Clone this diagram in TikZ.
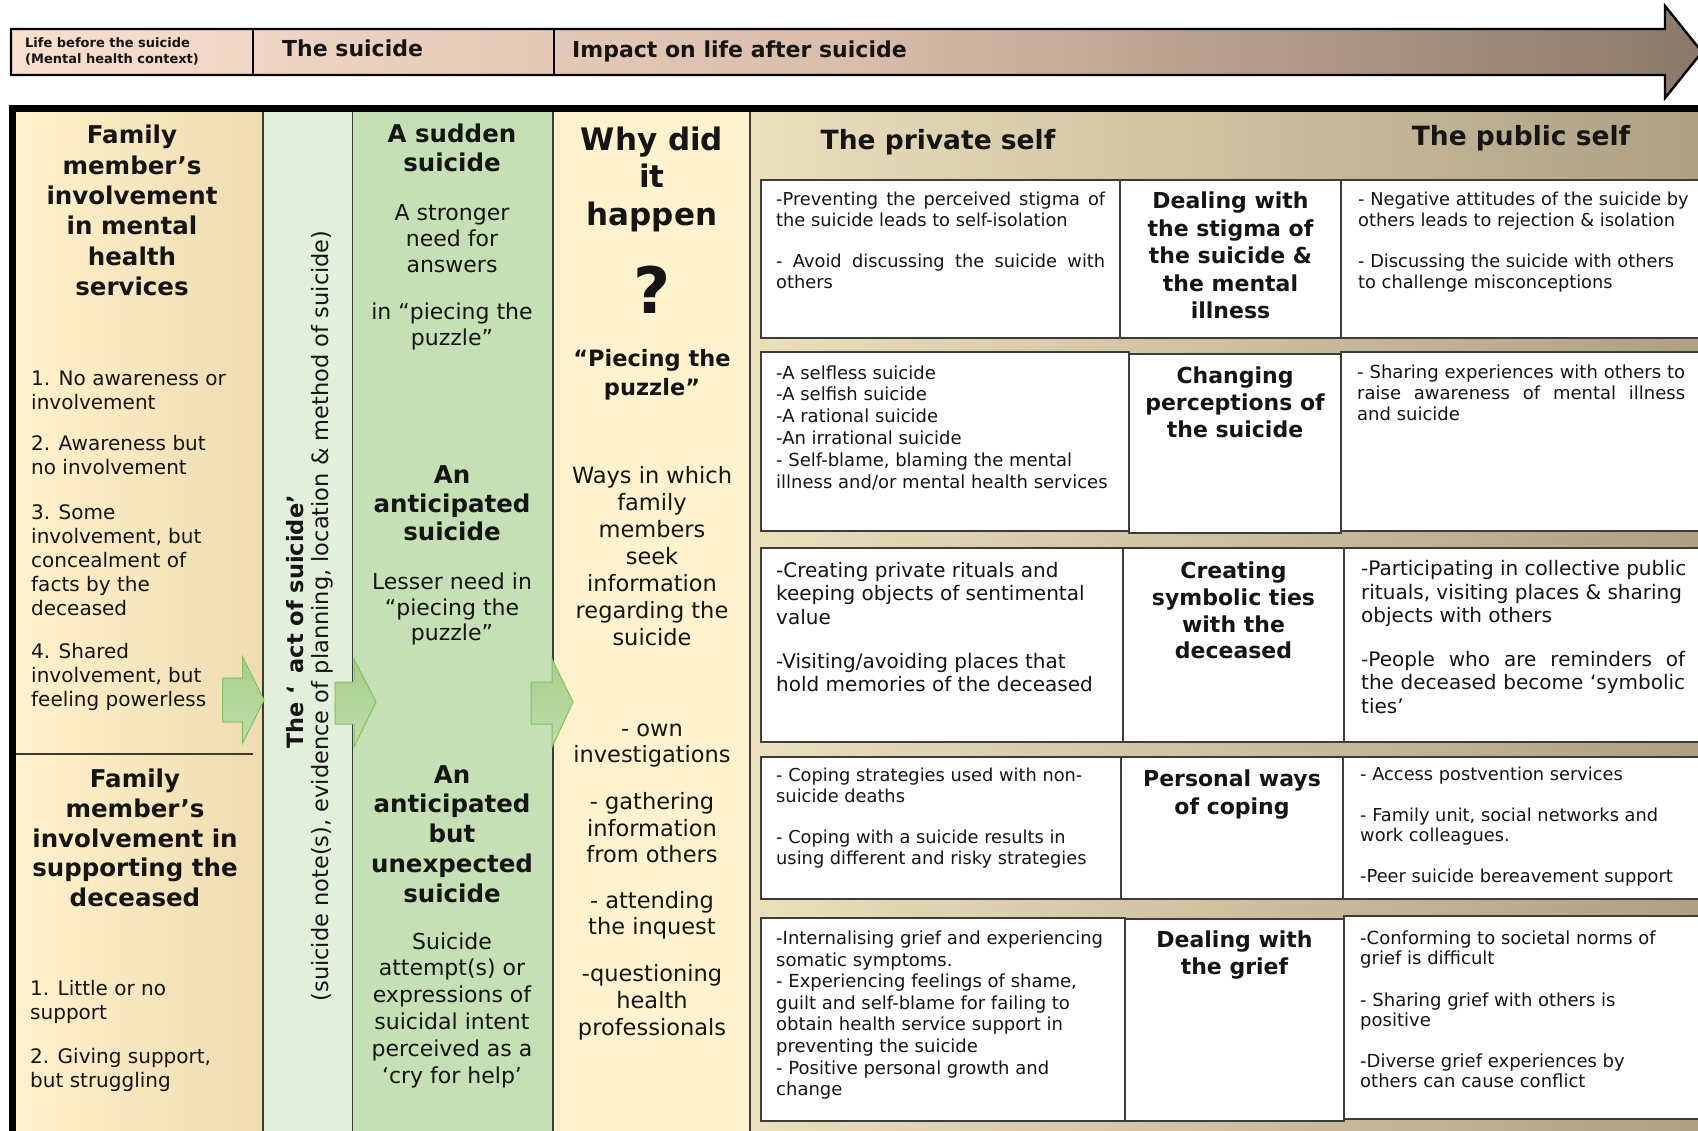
\documentclass[tikz,border=0pt]{standalone}
\usepackage{fontspec}
\setmainfont{DejaVu Sans}
\definecolor{bannerL}{HTML}{F8DFCE}
\definecolor{bannerM}{HTML}{D9BCAA}
\definecolor{bannerR}{HTML}{8A796A}
\definecolor{cA}{HTML}{FFF1CA}
\definecolor{cAr}{HTML}{EEDCB0}
\definecolor{cB}{HTML}{E2EFDA}
\definecolor{cC}{HTML}{C5E0B4}
\definecolor{cD}{HTML}{FFF2CC}
\definecolor{cEl}{HTML}{EBE0BC}
\definecolor{cEr}{HTML}{ADA083}
\definecolor{arT}{HTML}{A6CF8A}
\definecolor{arB}{HTML}{C0DEAB}
\definecolor{arD}{HTML}{82C062}
\definecolor{divl}{HTML}{3A3A3A}
\definecolor{boxl}{HTML}{3C3C3C}
\definecolor{ink}{HTML}{151515}
\newcommand\fs[2]{\fontsize{#1}{#2}\selectfont}
\newcommand\jl[2]{\makebox[#1][s]{#2}}
\tikzset{
  tc/.style={inner sep=0pt, anchor=north, align=center, text=ink},
  tl/.style={inner sep=0pt, anchor=north west, align=left, text=ink},
  cellbox/.style={draw=boxl, line width=1.6pt, fill=white},
  coldiv/.style={draw=divl, line width=1.3pt},
  greenarrow/.style={top color=arT, bottom color=arB, draw=arD, line width=1pt, line join=miter},
}
\begin{document}
\begin{tikzpicture}[x=1pt, y=-1pt]
\useasboundingbox (0,0) rectangle (1698,1131);
\fill[white] (0,0) rectangle (1698,1131);

% ---------- top banner arrow ----------
\shade[left color=bannerL, right color=bannerR, middle color=bannerM]
  (11,29) -- (1665,29) -- (1665,6) -- (1702,52) -- (1665,98) -- (1665,75) -- (11,75) -- cycle;
\draw[black, line width=2.4pt, line join=miter]
  (11,29) -- (1665,29) -- (1665,6) -- (1702,52) -- (1665,98) -- (1665,75) -- (11,75) -- cycle;
\draw[black, line width=2pt] (253,29) -- (253,75);
\draw[black, line width=2pt] (554,29) -- (554,75);
\node[tl, font=\bfseries\fs{13}{15.2}] (bLife) at (25,37) {\strut Life before the suicide\\(Mental health context)};
\node[inner sep=0pt, anchor=base west, font=\bfseries\fs{22}{26}, text=ink] (bSuicide) at (282,56.7) {The suicide};
\node[inner sep=0pt, anchor=base west, font=\bfseries\fs{22}{26}, text=ink] (bImpact) at (572,57.7) {Impact on life after suicide};

% ---------- column backgrounds ----------
\shade[left color=cA, right color=cAr] (16,112) rectangle (263,1131);
\fill[cB] (263,112) rectangle (352.7,1131);
\fill[cC] (352.7,112) rectangle (553,1131);
\fill[cD] (553,112) rectangle (750,1131);
\shade[left color=cEl, right color=cEr] (750,112) rectangle (1710,1131);

\draw[coldiv] (263,112) -- (263,1131);
\draw[coldiv] (352.7,112) -- (352.7,1131);
\draw[coldiv] (553,112) -- (553,1131);
\draw[draw=divl, line width=2pt] (750,112) -- (750,1131);
\draw[draw=divl, line width=1.3pt] (16,754) -- (253,754);

% main frame
\draw[black, line width=7pt] (12.5,1140) -- (12.5,108.5) -- (1710,108.5);

% ---------- column 1 ----------
\node[tc, font=\bfseries\fs{24.5}{30.4}] (famA) at (132,122.3) {\strut Family\\member’s\\involvement\\in mental\\health\\services};
\node[tl, font=\fs{20}{24}] (fa1) at (31,368.2) {\strut 1. No awareness or\\involvement};
\node[tl, font=\fs{20}{24}] (fa2) at (31,433.2) {\strut 2. Awareness but\\no involvement};
\node[tl, font=\fs{20}{24}] (fa3) at (31,502.2) {\strut 3. Some\\involvement, but\\concealment of\\facts by the\\deceased};
\node[tl, font=\fs{20}{24}] (fa4) at (31,641.2) {\strut 4. Shared\\involvement, but\\feeling powerless};

\node[tc, font=\bfseries\fs{24.5}{29.6}] (famB) at (135,767) {\strut Family\\member’s\\involvement in\\supporting the\\deceased};
\node[tl, font=\fs{20}{23.5}] (fb1) at (30,979) {\strut 1. Little or no\\support};
\node[tl, font=\fs{20}{23.5}] (fb2) at (30,1047) {\strut 2. Giving support,\\but struggling};

% ---------- column 2 (rotated) ----------
\node[inner sep=0pt, rotate=90, anchor=base, font=\bfseries\fs{22.5}{26}, text=ink] (act) at (303,622) {The ‘\hspace{0.55em}act of suicide’};
\node[inner sep=0pt, rotate=90, anchor=base, font=\fs{22.5}{26}, text=ink] (actsub) at (328,616) {(suicide note(s), evidence of planning, location \& method of suicide)};

% ---------- column 3 ----------
\node[tc, font=\bfseries\fs{24.5}{29}] (sud) at (452,122.3) {\strut A sudden\\suicide};
\node[tc, font=\fs{22}{26}] (sudA) at (452,202.5) {\strut A stronger\\need for\\answers};
\node[tc, font=\fs{22}{25.5}] (sudB) at (452,301.5) {\strut in “piecing the\\puzzle”};
\node[tc, font=\bfseries\fs{24.5}{28.5}] (ant) at (452,463.6) {\strut An\\anticipated\\suicide};
\node[tc, font=\fs{22}{25.5}] (antA) at (452,571.9) {\strut Lesser need in\\“piecing the\\puzzle”};
\node[tc, font=\bfseries\fs{24.5}{29.8}] (unx) at (452,762) {\strut An\\anticipated\\but\\unexpected\\suicide};
\node[tc, font=\fs{22}{26.9}] (unxA) at (452,930) {\strut Suicide\\attempt(s) or\\expressions of\\suicidal intent\\perceived as a\\‘cry for help’};

% ---------- column 4 ----------
\node[tc, font=\bfseries\fs{31}{37.5}] (why) at (652,123.6) {\strut Why did\\it\\happen};
\node[inner sep=0pt, font=\bfseries\fs{64}{70}, text=ink] (qmark) at (652,290) {?};
\node[tc, font=\bfseries\fs{22.5}{29}] (piece) at (652,345.6) {\strut “Piecing the\\puzzle”};
\node[tc, font=\fs{22.5}{27.1}] (ways) at (652,464) {\strut Ways in which\\family\\members\\seek\\information\\regarding the\\suicide};
\node[tc, font=\fs{22.5}{26}] (w1) at (652,718.5) {\strut - own\\investigations};
\node[tc, font=\fs{22.5}{26.7}] (w2) at (652,790.5) {\strut - gathering\\information\\from others};
\node[tc, font=\fs{22.5}{26}] (w3) at (652,890.5) {\strut - attending\\the inquest};
\node[tc, font=\fs{22.5}{27}] (w4) at (652,962) {\strut -questioning\\health\\professionals};

% ---------- green block arrows ----------
\path[greenarrow] (222.7,678) -- (242.7,678) -- (242.7,657) -- (264,700) -- (242.7,743) -- (242.7,722) -- (222.7,722) -- cycle;
\path[greenarrow] (335,682) -- (354,682) -- (354,659) -- (376,702) -- (354,747) -- (354,724) -- (335,724) -- cycle;
\path[greenarrow] (531,682) -- (552,682) -- (552,659) -- (573,702) -- (552,747) -- (552,724) -- (531,724) -- cycle;

% ---------- column 5: headers ----------
\node[inner sep=0pt, anchor=base, font=\bfseries\fs{26.5}{30}, text=ink] (priv) at (938,149.3) {The private self};
\node[inner sep=0pt, anchor=base, font=\bfseries\fs{26.5}{30}, text=ink] (publ) at (1521,145.8) {The public self};

% ---------- rows ----------
% row 1
\draw[cellbox] (761,180) rectangle (1120,338);
\draw[cellbox] (1120,180) rectangle (1341,338);
\draw[cellbox] (1341,180) rectangle (1712,338);
\node[tl, font=\fs{17.8}{20.8}] (r1l) at (776,190.7) {\strut\jl{329pt}{-Preventing the perceived stigma of}\\the suicide leads to self-isolation\\[20.8pt]\jl{329pt}{- Avoid discussing the suicide with}\\others};
\node[tc, font=\bfseries\fs{22}{27.5}] (r1m) at (1230.5,189.5) {\strut Dealing with\\the stigma of\\the suicide \&\\the mental\\illness};
\node[tl, font=\fs{17.8}{20.8}] (r1r) at (1358,190.7) {\strut - Negative attitudes of the suicide by\\others leads to rejection \& isolation\\[20.8pt]- Discussing the suicide with others\\to challenge misconceptions};

% row 2
\draw[cellbox] (761,352) rectangle (1129,531);
\draw[cellbox] (1129,354) rectangle (1341,533);
\draw[cellbox] (1341,352) rectangle (1712,531);
\node[tl, font=\fs{18}{21.9}] (r2l) at (776,363.5) {\strut -A selfless suicide\\-A selfish suicide\\-A rational suicide\\-An irrational suicide\\- Self-blame, blaming the mental\\illness and/or mental health services};
\node[tc, font=\bfseries\fs{22}{27}] (r2m) at (1235,364.8) {\strut Changing\\perceptions of\\the suicide};
\node[tl, font=\fs{18}{21}] (r2r) at (1357,363.6) {\strut\jl{328pt}{- Sharing experiences with others to}\\\jl{328pt}{raise awareness of mental illness}\\and suicide};

% row 3
\draw[cellbox] (761,548) rectangle (1123,742);
\draw[cellbox] (1123,548) rectangle (1344,742);
\draw[cellbox] (1344,548) rectangle (1712,742);
\node[tl, font=\fs{20}{23.7}] (r3l) at (776,560.4) {\strut -Creating private rituals and\\keeping objects of sentimental\\value\\[20pt]-Visiting/avoiding places that\\hold memories of the deceased};
\node[tc, font=\bfseries\fs{22}{26.7}] (r3m) at (1233.5,560) {\strut Creating\\symbolic ties\\with the\\deceased};
\node[tl, font=\fs{20}{23.5}] (r3r) at (1361,559) {\strut -Participating in collective public\\rituals, visiting places \& sharing\\objects with others\\[20pt]\jl{324pt}{-People who are reminders of}\\\jl{324pt}{the deceased become ‘symbolic}\\ties’};

% row 4
\draw[cellbox] (761,757) rectangle (1121,899);
\draw[cellbox] (1121,757) rectangle (1343,899);
\draw[cellbox] (1343,757) rectangle (1712,899);
\node[tl, font=\fs{17.8}{21}] (r4l) at (776,766.4) {\strut - Coping strategies used with non-\\suicide deaths\\[20pt]- Coping with a suicide results in\\using different and risky strategies};
\node[tc, font=\bfseries\fs{22}{28.4}] (r4m) at (1232,766.4) {\strut Personal ways\\of coping};
\node[tl, font=\fs{17.8}{20.5}] (r4r) at (1360,766.4) {\strut - Access postvention services\\[20pt]- Family unit, social networks and\\work colleagues.\\[20pt]-Peer suicide bereavement support};

% row 5
\draw[cellbox] (761,918) rectangle (1125,1121);
\draw[cellbox] (1125,919) rectangle (1344,1121);
\draw[cellbox] (1344,916) rectangle (1712,1119);
\node[tl, font=\fs{18}{21.6}] (r5l) at (776,929.2) {\strut -Internalising grief and experiencing\\somatic symptoms.\\- Experiencing feelings of shame,\\guilt and self-blame for failing to\\obtain health service support in\\preventing the suicide\\- Positive personal growth and\\change};
\node[tc, font=\bfseries\fs{22}{27}] (r5m) at (1234.5,928.8) {\strut Dealing with\\the grief};
\node[tl, font=\fs{18}{20}] (r5r) at (1360,930.3) {\strut -Conforming to societal norms of\\grief is difficult\\[21.5pt]- Sharing grief with others is\\positive\\[21.5pt]-Diverse grief experiences by\\others can cause conflict};
\end{tikzpicture}
\end{document}
